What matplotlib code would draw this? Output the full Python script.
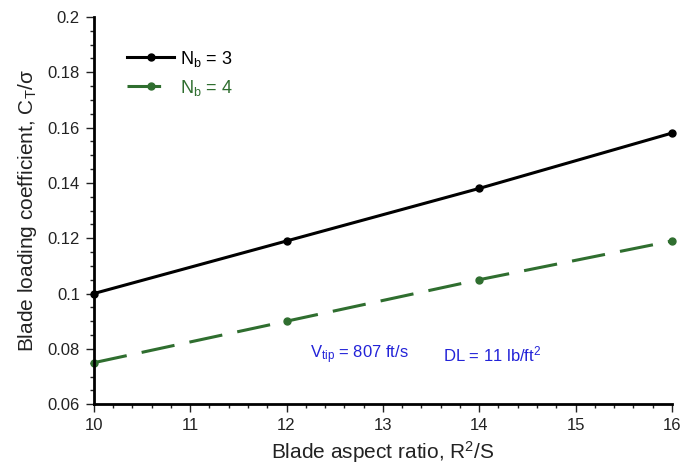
import numpy as np
import matplotlib
matplotlib.use("Agg")
import matplotlib.pyplot as plt
from matplotlib.ticker import MultipleLocator

plt.rcParams['font.family'] = ['Liberation Sans', 'DejaVu Sans']
plt.rcParams['mathtext.fontset'] = 'custom'
plt.rcParams['mathtext.rm'] = 'Liberation Sans'
plt.rcParams['mathtext.it'] = 'Liberation Sans'

# data
aspect_ratio = [10, 12, 14, 16]
ct_nb3 = [0.100, 0.119, 0.138, 0.158]
ct_nb4 = [0.075, 0.090, 0.105, 0.119]

green = "#2f6e2f"
blue = "#2323d8"

fig = plt.figure(figsize=(6.8, 4.7), dpi=100)
ax = fig.add_axes([0.138, 0.140, 0.850, 0.824])

ax.plot(aspect_ratio, ct_nb3, color="black", lw=2.2, marker="o", ms=5,
        label=r"N$_\mathregular{b}$ = 3")
ax.plot(aspect_ratio, ct_nb4, color=green, lw=2.2, marker="o", ms=5,
        dashes=(11, 5), label=r"N$_\mathregular{b}$ = 4")

ax.set_xlim(10, 16)
ax.set_ylim(0.06, 0.2)
ax.xaxis.set_major_locator(MultipleLocator(1))
ax.xaxis.set_minor_locator(MultipleLocator(0.2))
ax.yaxis.set_minor_locator(MultipleLocator(0.005))
ax.set_yticks(np.arange(0.06, 0.201, 0.02))
ax.set_yticklabels(["0.06", "0.08", "0.1", "0.12", "0.14", "0.16", "0.18", "0.2"])

for side in ["top", "right"]:
    ax.spines[side].set_visible(False)
for side in ["left", "bottom"]:
    ax.spines[side].set_linewidth(2)
ax.tick_params(which="major", direction="out", length=6, width=1, labelsize=12,
               colors="#222222", pad=4)
ax.tick_params(which="minor", direction="out", length=3, width=1, colors="#222222")
for line in ax.lines:
    line.set_clip_on(False)

ax.set_xlabel(r"Blade aspect ratio, R$^\mathregular{2}$/S", fontsize=15, color="#222222")
ax.set_ylabel(r"Blade loading coefficient, C$_\mathregular{T}$/σ", fontsize=15,
              color="#222222", labelpad=6)

leg = ax.legend(loc="upper left", bbox_to_anchor=(0.03, 0.96), frameon=False,
                fontsize=13, handlelength=2.6, handletextpad=0.3, numpoints=1)
leg.get_texts()[1].set_color(green)

ax.text(12.24, 0.078, r"V$_\mathregular{tip}$ = 807 ft/s", color=blue, fontsize=12,
        ha="left", va="center")
ax.text(13.62, 0.078, r"DL = 11 lb/ft$^\mathregular{2}$", color=blue, fontsize=12,
        ha="left", va="center")

fig.savefig("out.png", dpi=100)
